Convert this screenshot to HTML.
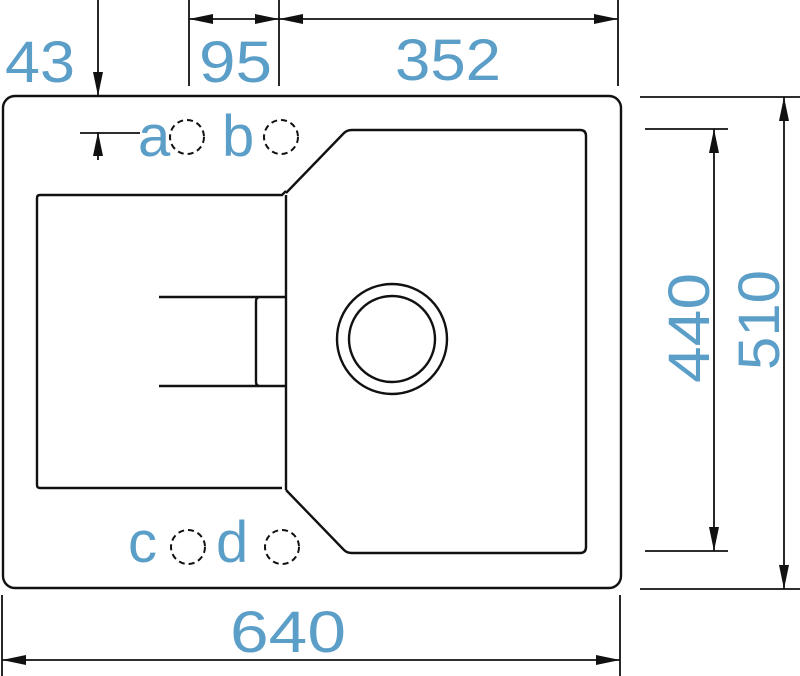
<!DOCTYPE html>
<html><head><meta charset="utf-8"><style>
html,body{margin:0;padding:0;background:#fff;}
svg{display:block}
text{font-family:"Liberation Sans",sans-serif;fill:#5b9ec8;}
</style></head><body>
<svg width="800" height="676" viewBox="0 0 800 676" xmlns="http://www.w3.org/2000/svg">
<defs>
<marker id="ar" viewBox="0 0 24 10" refX="24" refY="5" markerWidth="24" markerHeight="10" markerUnits="userSpaceOnUse" orient="auto-start-reverse">
<path d="M0,0 L24,5 L0,10 Z" fill="#111"/>
</marker>
</defs>
<g fill="none" stroke="#111" stroke-width="2.4">
<rect x="3" y="96" width="618" height="492" rx="12"/>
<path d="M40,195 H282 L286,191 M286,195 V490 M282,488 H40 Q37,488 37,485 V198 Q37,195 40,195"/>
<path d="M286,193 L344,133 Q347,130 352,130 H580 Q586,130 586,136 V547 Q586,553 580,553 H352 Q347,553 344,550 L286,490"/>
<path d="M159,297 H286 M159,386 H286 M286,297 H260 Q256,297 256,301 V382 Q256,386 260,386 H286"/>
<circle cx="392" cy="339" r="55"/>
<circle cx="392" cy="339" r="43"/>
</g>
<g fill="none" stroke="#111" stroke-width="2" stroke-dasharray="6,4">
<circle cx="187" cy="137" r="17"/>
<circle cx="281" cy="137" r="17"/>
<circle cx="188" cy="547" r="17"/>
<circle cx="282" cy="547" r="17"/>
</g>
<g stroke="#111" stroke-width="1.8" fill="none">
<line x1="98" y1="0" x2="98" y2="96" marker-end="url(#ar)"/>
<line x1="98" y1="160" x2="98" y2="132" marker-end="url(#ar)"/>
<line x1="80" y1="133" x2="140" y2="133"/>
<line x1="189" y1="0" x2="189" y2="86"/>
<line x1="279" y1="0" x2="279" y2="86"/>
<line x1="618" y1="0" x2="618" y2="86"/>
<line x1="189" y1="19" x2="279" y2="19" marker-start="url(#ar)" marker-end="url(#ar)"/>
<line x1="279" y1="19" x2="618" y2="19" marker-start="url(#ar)" marker-end="url(#ar)"/>
<line x1="640" y1="97" x2="800" y2="97"/>
<line x1="640" y1="589" x2="800" y2="589"/>
<line x1="645" y1="129" x2="728" y2="129"/>
<line x1="645" y1="551" x2="728" y2="551"/>
<line x1="714" y1="129" x2="714" y2="551" marker-start="url(#ar)" marker-end="url(#ar)"/>
<line x1="784" y1="97" x2="784" y2="589" marker-start="url(#ar)" marker-end="url(#ar)"/>
<line x1="2" y1="595" x2="2" y2="676"/>
<line x1="620" y1="595" x2="620" y2="676"/>
<line x1="2" y1="660" x2="620" y2="660" marker-start="url(#ar)" marker-end="url(#ar)"/>
</g>
<g font-size="58">
<text x="5" y="82" textLength="70" lengthAdjust="spacingAndGlyphs">43</text>
<text x="199" y="82" textLength="73" lengthAdjust="spacingAndGlyphs">95</text>
<text x="395" y="80" textLength="106" lengthAdjust="spacingAndGlyphs">352</text>
<text x="230" y="652" textLength="116" lengthAdjust="spacingAndGlyphs">640</text>
<text transform="translate(709,383) rotate(-90)" textLength="110" lengthAdjust="spacingAndGlyphs">440</text>
<text transform="translate(779,370) rotate(-90)" textLength="100" lengthAdjust="spacingAndGlyphs">510</text>
</g>
<g font-size="58">
<text x="138" y="156">a</text>
<text x="222" y="156">b</text>
<text x="128" y="562">c</text>
<text x="216" y="562">d</text>
</g>
</svg>
</body></html>
